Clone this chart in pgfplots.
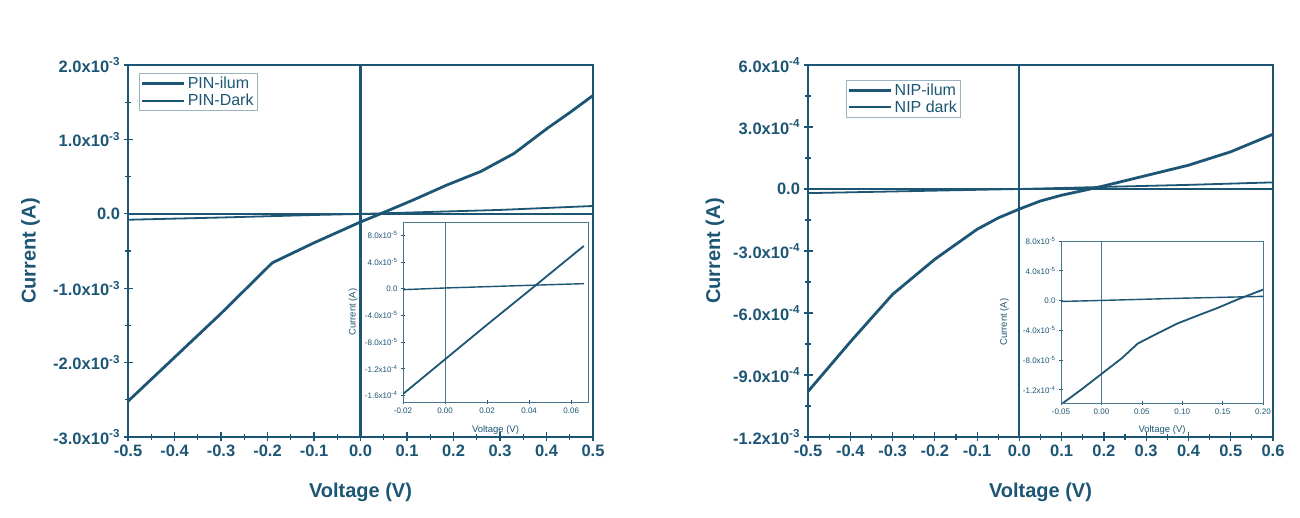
\documentclass[border=0pt]{standalone}
\usepackage{pgfplots}
\pgfplotsset{compat=1.18}
\usepackage{fontspec}
\setmainfont{Liberation Sans}
\definecolor{ink}{RGB}{28,86,116}

% PIN device
\pgfplotstableread{
v i
-0.5 -2.52e-3
-0.4 -1.93e-3
-0.3 -1.34e-3
-0.19 -0.66e-3
-0.1 -0.39e-3
0.0 -0.11e-3
0.043 0.0
0.115 0.19e-3
0.187 0.39e-3
0.259 0.57e-3
0.33 0.81e-3
0.402 1.15e-3
0.45 1.36e-3
0.5 1.59e-3
}\pinilum
\pgfplotstableread{
v i
-0.5 -0.08e-3
-0.3 -0.05e-3
-0.1 -0.016e-3
0.0 -0.002e-3
0.1 0.016e-3
0.3 0.052e-3
0.5 0.105e-3
}\pindark
\pgfplotstableread{
v i
-0.02 -1.58e-4
0.0 -1.06e-4
0.02 -0.54e-4
0.04 -0.03e-4
0.066 0.64e-4
}\pinilumz
\pgfplotstableread{
v i
-0.02 -0.15e-5
0.0 0.1e-5
0.02 0.3e-5
0.04 0.5e-5
0.066 0.75e-5
}\pindarkz

% NIP device
\pgfplotstableread{
v i
-0.5 -0.98e-3
-0.4 -0.74e-3
-0.3 -0.51e-3
-0.2 -0.34e-3
-0.1 -0.195e-3
-0.05 -0.14e-3
0.0 -0.097e-3
0.05 -0.058e-3
0.1 -0.03e-3
0.15 -0.008e-3
0.2 0.015e-3
0.3 0.065e-3
0.4 0.115e-3
0.5 0.18e-3
0.6 0.265e-3
}\nipilum
\pgfplotstableread{
v i
-0.5 -0.02e-3
-0.2 -0.008e-3
0.0 0.0
0.2 0.01e-3
0.4 0.02e-3
0.6 0.032e-3
}\nipdark
\pgfplotstableread{
v i
-0.05 -1.40e-4
-0.025 -1.20e-4
0.0 -0.99e-4
0.025 -0.78e-4
0.045 -0.58e-4
0.07 -0.44e-4
0.094 -0.31e-4
0.12 -0.20e-4
0.144 -0.10e-4
0.17 0.02e-4
0.2 0.145e-4
}\nipilumz
\pgfplotstableread{
v i
-0.05 -0.14e-5
0.0 0.0
0.05 0.15e-5
0.1 0.3e-5
0.15 0.42e-5
0.2 0.55e-5
}\nipdarkz

\pgfplotsset{
  ivbase/.style={
    scale only axis, anchor=south west, axis background/.style={fill=white},
    scaled ticks=false,
    xtick pos=bottom, ytick pos=left, tick align=center,
    every tick/.append style={ink},
    tick label style={text=ink},
    xticklabel style={/pgf/number format/.cd, fixed, fixed zerofill, assume math mode=true},
  },
  ivmain/.style={
    ivbase, width=465pt, height=372pt,
    axis line style={ink, line width=1.6pt},
    every tick/.append style={line width=1.2pt},
    major tick length=9pt, minor tick length=6pt,
    minor x tick num=1, minor y tick num=1,
    tick label style={font=\bfseries\fontsize{16.5}{18}\selectfont},
    xticklabel style={/pgf/number format/precision=1},
    label style={font=\bfseries\fontsize{20}{24}\selectfont, text=ink},
    xlabel={Voltage (V)}, ylabel={Current (A)},
    xlabel style={at={(axis description cs:0.5,-0.148)}, anchor=center},
    ylabel style={at={(axis description cs:-0.21,0.5)}, anchor=center, rotate=0},
    legend cell align=left,
    legend style={draw=ink!45, line width=0.6pt, fill=none, inner sep=1.5pt,
      font=\fontsize{16}{19}\selectfont, text=ink, anchor=north west},
    legend image code/.code={\draw[##1] (0pt,0pt) -- (42pt,0pt);},
  },
  ivinset/.style={
    ivbase,
    axis line style={ink!80, line width=0.8pt},
    every tick/.append style={line width=0.6pt},
    major tick length=4pt,
    tick label style={font=\fontsize{8}{9}\selectfont},
    xticklabel style={/pgf/number format/precision=2},
    label style={font=\fontsize{9.5}{10}\selectfont, text=ink},
    xlabel={Voltage (V)}, ylabel={Current (A)},
  },
  zeroline/.style={ink, line width=2.2pt, forget plot},
  zerothin/.style={ink!80, line width=0.9pt, forget plot},
  ilum/.style={ink, line width=2.8pt},
  dark/.style={ink, line width=1.8pt},
}

\begin{document}
\begin{tikzpicture}
\useasboundingbox (0,0) rectangle (1300pt,518pt);

% left: PIN
\begin{axis}[ivmain, at={(128pt,81pt)},
  xmin=-0.5, xmax=0.5, ymin=-0.003, ymax=0.002,
  xtick={-0.5,-0.4,...,0.5},
  ytick={-0.003,-0.002,-0.001,0,0.001,0.002},
  yticklabels={{-3.0x10\textsuperscript{-3}},{-2.0x10\textsuperscript{-3}},{-1.0x10\textsuperscript{-3}},{0.0},{1.0x10\textsuperscript{-3}},{2.0x10\textsuperscript{-3}}},
  legend style={at={(axis description cs:0.024,0.978)}}]
\addplot[zeroline] coordinates {(0,-0.003) (0,0.002)};
\addplot[zeroline] coordinates {(-0.5,0) (0.5,0)};
\addplot[ilum] table[x=v, y=i] {\pinilum};
\addlegendentry{PIN-ilum}
\addplot[dark] table[x=v, y=i] {\pindark};
\addlegendentry{PIN-Dark}
\end{axis}

\begin{axis}[ivinset, at={(403pt,116pt)}, width=185pt, height=180pt,
  xmin=-0.02, xmax=0.068, ymin=-1.7e-4, ymax=1e-4,
  xtick={-0.02,0,0.02,0.04,0.06},
  ytick={-1.6e-4,-1.2e-4,-8e-5,-4e-5,0,4e-5,8e-5},
  yticklabels={{-1.6x10\textsuperscript{-4}},{-1.2x10\textsuperscript{-4}},{-8.0x10\textsuperscript{-5}},{-4.0x10\textsuperscript{-5}},{0.0},{4.0x10\textsuperscript{-5}},{8.0x10\textsuperscript{-5}}},
  xlabel style={at={(axis description cs:0.5,-0.155)}, anchor=center},
  ylabel style={at={(axis description cs:-0.27,0.5)}, anchor=center}]
\addplot[zerothin] coordinates {(0,-1.7e-4) (0,1e-4)};
\addplot[ink, line width=1.8pt] table[x=v, y=i] {\pinilumz};
\addplot[ink, line width=1.4pt] table[x=v, y=i] {\pindarkz};
\end{axis}

% right: NIP
\begin{axis}[ivmain, at={(808pt,81pt)},
  xmin=-0.5, xmax=0.6, ymin=-0.0012, ymax=0.0006,
  xtick={-0.5,-0.4,...,0.6},
  ytick={-0.0012,-0.0009,-0.0006,-0.0003,0,0.0003,0.0006},
  yticklabels={{-1.2x10\textsuperscript{-3}},{-9.0x10\textsuperscript{-4}},{-6.0x10\textsuperscript{-4}},{-3.0x10\textsuperscript{-4}},{0.0},{3.0x10\textsuperscript{-4}},{6.0x10\textsuperscript{-4}}},
  ylabel style={at={(axis description cs:-0.2,0.5)}},
  legend style={at={(axis description cs:0.082,0.96)}}]
\addplot[zeroline] coordinates {(0,-0.0012) (0,0.0006)};
\addplot[zeroline] coordinates {(-0.5,0) (0.6,0)};
\addplot[ilum] table[x=v, y=i] {\nipilum};
\addlegendentry{NIP-ilum}
\addplot[dark] table[x=v, y=i] {\nipdark};
\addlegendentry{NIP dark}
\end{axis}

\begin{axis}[ivinset, at={(1061pt,115pt)}, width=202pt, height=162pt,
  xmin=-0.05, xmax=0.2, ymin=-1.38e-4, ymax=8e-5,
  xtick={-0.05,0,0.05,0.1,0.15,0.2},
  ytick={-1.2e-4,-8e-5,-4e-5,0,4e-5,8e-5},
  yticklabels={{-1.2x10\textsuperscript{-4}},{-8.0x10\textsuperscript{-5}},{-4.0x10\textsuperscript{-5}},{0.0},{4.0x10\textsuperscript{-5}},{8.0x10\textsuperscript{-5}}},
  xlabel style={at={(axis description cs:0.5,-0.167)}, anchor=center},
  ylabel style={at={(axis description cs:-0.28,0.5)}, anchor=center}]
\addplot[zerothin] coordinates {(0,-1.38e-4) (0,8e-5)};
\addplot[ink, line width=1.8pt] table[x=v, y=i] {\nipilumz};
\addplot[ink, line width=1.4pt] table[x=v, y=i] {\nipdarkz};
\end{axis}
\end{tikzpicture}
\end{document}
